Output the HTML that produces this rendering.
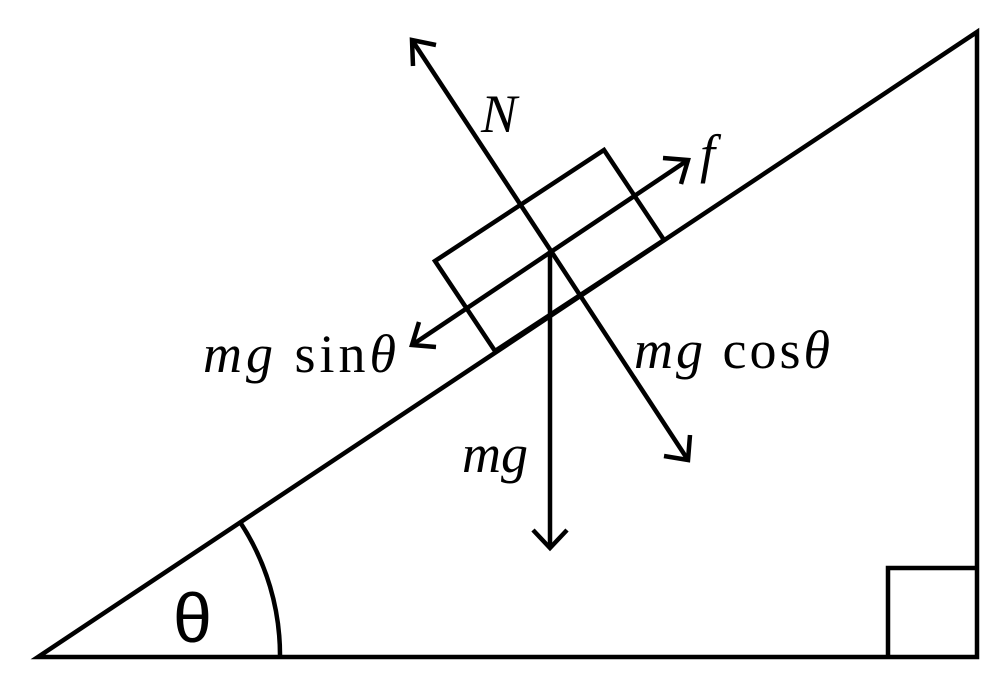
<!DOCTYPE html>
<html><head><style>
html,body{margin:0;padding:0;background:#fff;}
svg{display:block}
text{font-family:"Liberation Serif",serif;font-style:italic;font-size:54px;fill:#000}
</style></head><body>
<svg width="1000" height="679" viewBox="0 0 1000 679">
<g fill="none" stroke="#000" stroke-width="4.5" stroke-linejoin="miter" stroke-linecap="butt">
<polygon points="38,657 977,657 977,32"/>
<polyline points="888,657 888,568 977,568"/>
<path d="M240,522 A242,242 0 0 1 280,657"/>
<polygon points="435,261 604,150 664,240 495,351"/>
<line x1="551" y1="251" x2="412" y2="40"/>
<polyline points="413,66 412,40 436,45"/>
<line x1="412" y1="345" x2="688" y2="160"/>
<polyline points="663,158 688,160 681,184"/>
<polyline points="419,322 412,345 436,347"/>
<line x1="551" y1="251" x2="688" y2="460"/>
<polyline points="664,456 688,460 690,435"/>
<line x1="550" y1="251" x2="550" y2="548"/>
<polyline points="533,530 550,548 567,530"/>
</g>
<text x="481" y="132">N</text>
<text x="700" y="172">f</text>
<text x="203" y="372" textLength="193" lengthAdjust="spacing">mg <tspan font-style="normal">sin</tspan>θ</text>
<text x="634" y="368" textLength="196" lengthAdjust="spacing">mg <tspan font-style="normal">cos</tspan>θ</text>
<text x="462" y="472">mg</text>
<text x="173" y="642" style="font-family:'Liberation Sans',sans-serif;font-style:normal;font-size:70px">θ</text>
</svg>
</body></html>
